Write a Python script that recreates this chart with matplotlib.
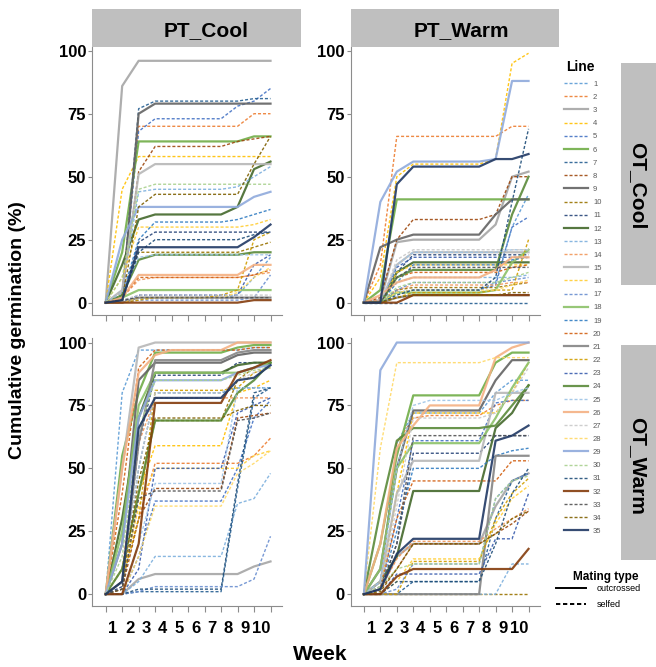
import matplotlib
matplotlib.use("Agg")
import matplotlib.pyplot as plt
from matplotlib.lines import Line2D
from matplotlib.patches import Rectangle

plt.rcParams['font.family'] = ['Liberation Sans', 'DejaVu Sans']

# semanas (11 puntos) y etiquetas del eje x
weeks = list(range(11))
week_labels = [str(w) for w in range(1, 11)]
line_ids = [str(i) for i in range(1, 36)]

line_colors = ["#5B9BD5", "#ED7D31", "#A5A5A5", "#FFC000", "#4472C4", "#70AD47",
               "#255E91", "#9E480E", "#636363", "#997300", "#264478", "#43682B",
               "#7CAFDD", "#F1975A", "#B7B7B7", "#FFCD33", "#698ED0", "#8CC168",
               "#327DC2", "#D26012", "#848484", "#D09E00", "#3A5DAE", "#5A8A39",
               "#9DC3E6", "#F4B183", "#C9C9C9", "#FFD966", "#8FAADC", "#A9D18E",
               "#1F4E79", "#843C0C", "#525252", "#7F6000", "#203864"]
solid_lines = [3, 6, 9, 12, 15, 18, 21, 24, 26, 29, 32, 35]

# PT_Cool / OT_Cool
pt_cool_ot_cool = [
    [0, 1, 2, 2, 2, 2, 2, 2, 3, 10, 18],
    [0, 4, 70, 70, 70, 70, 70, 70, 70, 75, 75],
    [0, 86, 96, 96, 96, 96, 96, 96, 96, 96, 96],
    [0, 45, 58, 58, 58, 58, 58, 58, 58, 58, 58],
    [0, 3, 68, 73, 73, 73, 73, 73, 78, 80, 85],
    [0, 20, 64, 64, 64, 64, 64, 64, 64, 66, 66],
    [0, 2, 77, 80, 80, 80, 80, 80, 80, 81, 81],
    [0, 3, 52, 62, 62, 62, 62, 62, 64, 65, 66],
    [0, 1, 75, 79, 79, 79, 79, 79, 79, 79, 79],
    [0, 1, 20, 20, 20, 20, 20, 20, 20, 22, 24],
    [0, 1, 24, 28, 28, 28, 28, 28, 28, 28, 28],
    [0, 15, 33, 35, 35, 35, 35, 35, 38, 53, 56],
    [0, 5, 44, 45, 45, 45, 45, 45, 46, 50, 54],
    [0, 2, 9, 10, 10, 10, 10, 10, 10, 11, 12],
    [0, 5, 51, 55, 55, 55, 55, 55, 55, 55, 55],
    [0, 10, 30, 30, 30, 30, 30, 30, 30, 31, 33],
    [0, 0, 1, 1, 1, 1, 1, 1, 1, 2, 11],
    [0, 2, 5, 5, 5, 5, 5, 5, 5, 5, 5],
    [0, 3, 25, 32, 32, 32, 32, 32, 33, 35, 37],
    [0, 2, 10, 10, 10, 10, 10, 10, 10, 11, 13],
    [0, 0, 2, 2, 2, 2, 2, 2, 2, 2, 2],
    [0, 0, 1, 2, 2, 2, 2, 3, 5, 25, 28],
    [0, 0, 3, 3, 3, 3, 3, 3, 3, 15, 19],
    [0, 3, 17, 19, 19, 19, 19, 19, 19, 20, 20],
    [0, 4, 18, 19, 19, 19, 19, 19, 19, 19, 19],
    [0, 2, 11, 11, 11, 11, 11, 11, 11, 15, 15],
    [0, 1, 3, 3, 3, 3, 3, 3, 3, 3, 3],
    [0, 0, 2, 2, 2, 2, 2, 2, 4, 10, 14],
    [0, 25, 38, 38, 38, 38, 38, 38, 38, 42, 44],
    [0, 10, 45, 47, 47, 47, 47, 47, 47, 47, 47],
    [0, 1, 20, 25, 25, 25, 25, 25, 25, 27, 28],
    [0, 0, 0, 0, 0, 0, 0, 0, 0, 1, 1],
    [0, 1, 2, 2, 2, 2, 2, 2, 2, 2, 2],
    [0, 1, 38, 43, 43, 43, 43, 43, 43, 55, 66],
    [0, 1, 22, 22, 22, 22, 22, 22, 22, 26, 31],
]

# PT_Warm / OT_Cool
pt_warm_ot_cool = [
    [0, 1, 4, 5, 5, 5, 5, 5, 8, 30, 43],
    [0, 15, 66, 66, 66, 66, 66, 66, 66, 70, 70],
    [0, 1, 24, 25, 25, 25, 25, 25, 31, 50, 52],
    [0, 10, 50, 55, 55, 55, 55, 55, 57, 95, 99],
    [0, 0, 4, 5, 5, 5, 5, 5, 7, 30, 34],
    [0, 5, 41, 41, 41, 41, 41, 41, 41, 41, 41],
    [0, 0, 0, 0, 0, 0, 0, 0, 0, 0, 0],
    [0, 2, 25, 33, 33, 33, 33, 33, 35, 50, 50],
    [0, 22, 25, 27, 27, 27, 27, 27, 35, 41, 41],
    [0, 0, 5, 6, 6, 6, 6, 6, 6, 7, 8],
    [0, 0, 12, 19, 19, 19, 19, 19, 19, 19, 19],
    [0, 0, 12, 16, 16, 16, 16, 16, 16, 16, 16],
    [0, 0, 8, 10, 10, 10, 10, 10, 10, 10, 11],
    [0, 1, 5, 7, 7, 7, 7, 7, 7, 8, 8],
    [0, 0, 15, 20, 20, 20, 20, 20, 20, 20, 20],
    [0, 0, 12, 15, 15, 15, 15, 15, 15, 15, 15],
    [0, 0, 5, 8, 8, 8, 8, 8, 8, 9, 10],
    [0, 0, 4, 4, 4, 4, 4, 4, 5, 16, 21],
    [0, 0, 8, 15, 15, 15, 15, 15, 15, 17, 18],
    [0, 0, 10, 12, 12, 12, 12, 12, 12, 14, 15],
    [0, 0, 2, 3, 3, 3, 3, 3, 3, 3, 3],
    [0, 0, 2, 4, 4, 4, 4, 4, 5, 5, 25],
    [0, 0, 14, 18, 18, 18, 18, 18, 18, 18, 18],
    [0, 0, 10, 13, 13, 13, 13, 13, 13, 35, 50],
    [0, 0, 15, 20, 20, 20, 20, 20, 20, 21, 21],
    [0, 3, 8, 10, 10, 10, 10, 10, 13, 18, 18],
    [0, 0, 17, 21, 21, 21, 21, 21, 21, 21, 21],
    [0, 0, 4, 5, 5, 5, 5, 5, 5, 7, 9],
    [0, 40, 52, 56, 56, 56, 56, 56, 57, 88, 88],
    [0, 0, 6, 8, 8, 8, 8, 8, 8, 10, 12],
    [0, 0, 3, 5, 5, 5, 5, 5, 10, 40, 69],
    [0, 0, 0, 3, 3, 3, 3, 3, 3, 3, 3],
    [0, 0, 10, 14, 14, 14, 14, 14, 14, 14, 14],
    [0, 0, 2, 3, 3, 3, 3, 3, 3, 4, 4],
    [0, 0, 47, 54, 54, 54, 54, 54, 57, 57, 59],
]

# PT_Cool / OT_Warm
pt_cool_ot_warm = [
    [0, 80, 97, 97, 97, 97, 97, 97, 97, 98, 98],
    [0, 5, 30, 52, 52, 52, 52, 52, 52, 55, 62],
    [0, 0, 6, 8, 8, 8, 8, 8, 8, 11, 13],
    [0, 10, 40, 59, 59, 59, 59, 59, 80, 82, 85],
    [0, 0, 15, 37, 37, 37, 37, 37, 50, 70, 77],
    [0, 55, 80, 96, 96, 96, 96, 96, 98, 99, 99],
    [0, 0, 1, 1, 1, 1, 1, 1, 42, 78, 82],
    [0, 2, 30, 42, 42, 42, 42, 42, 70, 71, 72],
    [0, 20, 85, 92, 92, 92, 92, 92, 95, 96, 96],
    [0, 2, 40, 69, 69, 69, 69, 69, 85, 90, 92],
    [0, 3, 60, 87, 87, 87, 87, 87, 92, 92, 92],
    [0, 30, 70, 88, 88, 88, 88, 88, 91, 92, 92],
    [0, 0, 5, 15, 15, 15, 15, 15, 36, 38, 48],
    [0, 10, 60, 78, 78, 78, 78, 78, 78, 78, 78],
    [0, 50, 98, 100, 100, 100, 100, 100, 100, 100, 100],
    [0, 5, 35, 50, 50, 50, 50, 50, 50, 55, 57],
    [0, 0, 1, 3, 3, 3, 3, 3, 3, 6, 23],
    [0, 25, 75, 88, 88, 88, 88, 88, 88, 90, 92],
    [0, 5, 50, 80, 80, 80, 80, 80, 82, 82, 82],
    [0, 40, 90, 97, 97, 97, 97, 97, 97, 98, 98],
    [0, 5, 60, 93, 93, 93, 93, 93, 96, 97, 97],
    [0, 5, 30, 81, 81, 81, 81, 81, 82, 88, 90],
    [0, 0, 10, 50, 50, 50, 50, 50, 72, 75, 78],
    [0, 10, 40, 69, 69, 69, 69, 69, 80, 85, 92],
    [0, 0, 20, 44, 44, 44, 44, 44, 82, 82, 82],
    [0, 50, 88, 95, 97, 97, 97, 97, 100, 100, 100],
    [0, 5, 50, 80, 80, 80, 80, 80, 85, 88, 90],
    [0, 0, 15, 35, 35, 35, 35, 35, 48, 52, 57],
    [0, 20, 70, 85, 85, 85, 85, 85, 88, 90, 91],
    [0, 15, 65, 85, 85, 85, 85, 85, 87, 89, 90],
    [0, 0, 2, 2, 2, 2, 2, 2, 44, 80, 82],
    [0, 0, 20, 76, 76, 76, 76, 76, 88, 90, 93],
    [0, 2, 38, 41, 41, 41, 41, 41, 69, 70, 72],
    [0, 5, 45, 70, 70, 70, 70, 70, 73, 75, 75],
    [0, 5, 66, 78, 78, 78, 78, 78, 85, 86, 91],
]

# PT_Warm / OT_Warm
pt_warm_ot_warm = [
    [0, 5, 60, 72, 72, 72, 72, 72, 80, 85, 85],
    [0, 3, 60, 70, 71, 71, 71, 71, 75, 77, 77],
    [0, 2, 15, 20, 20, 20, 20, 20, 35, 45, 48],
    [0, 2, 40, 72, 72, 72, 72, 72, 72, 80, 92],
    [0, 3, 30, 61, 61, 61, 61, 61, 76, 77, 77],
    [0, 20, 55, 79, 79, 79, 79, 79, 92, 96, 96],
    [0, 0, 0, 5, 5, 5, 5, 5, 30, 45, 48],
    [0, 2, 10, 20, 20, 20, 20, 20, 24, 28, 33],
    [0, 10, 50, 73, 73, 73, 73, 73, 85, 93, 93],
    [0, 0, 0, 0, 0, 0, 0, 0, 0, 0, 0],
    [0, 2, 20, 56, 56, 56, 56, 56, 63, 63, 63],
    [0, 5, 15, 41, 41, 41, 41, 41, 66, 72, 83],
    [0, 0, 0, 0, 0, 0, 0, 0, 0, 12, 12],
    [0, 2, 14, 21, 21, 21, 21, 21, 26, 30, 34],
    [0, 5, 40, 53, 53, 53, 53, 53, 80, 80, 80],
    [0, 0, 5, 14, 14, 14, 14, 14, 28, 38, 43],
    [0, 0, 2, 12, 12, 12, 12, 12, 38, 45, 48],
    [0, 10, 50, 60, 60, 60, 60, 60, 70, 82, 92],
    [0, 2, 25, 50, 50, 50, 50, 50, 55, 57, 58],
    [0, 2, 30, 45, 45, 45, 45, 45, 45, 53, 53],
    [0, 0, 0, 0, 0, 0, 0, 0, 55, 55, 55],
    [0, 0, 0, 13, 13, 13, 13, 13, 30, 40, 46],
    [0, 0, 8, 8, 8, 8, 8, 8, 22, 22, 40],
    [0, 33, 61, 66, 66, 66, 66, 66, 67, 75, 83],
    [0, 5, 50, 75, 77, 77, 77, 77, 77, 80, 82],
    [0, 20, 58, 67, 75, 75, 75, 75, 94, 98, 100],
    [0, 3, 35, 70, 70, 70, 70, 70, 72, 80, 90],
    [0, 58, 92, 92, 92, 92, 92, 92, 94, 94, 94],
    [0, 89, 100, 100, 100, 100, 100, 100, 100, 100, 100],
    [0, 3, 10, 12, 12, 12, 12, 12, 38, 45, 47],
    [0, 0, 5, 5, 5, 5, 5, 5, 20, 40, 50],
    [0, 0, 7, 10, 10, 10, 10, 10, 10, 10, 18],
    [0, 2, 20, 63, 63, 63, 63, 63, 63, 63, 63],
    [0, 1, 10, 20, 20, 20, 20, 20, 24, 30, 33],
    [0, 2, 16, 22, 22, 22, 22, 22, 61, 63, 67],
]

W, H = 656, 667
fig = plt.figure(figsize=(W / 100, H / 100), dpi=100)


def px_axes(left, top, right, bottom):
    return fig.add_axes([left / W, 1 - bottom / H, (right - left) / W, (bottom - top) / H])


def px_rect(left, top, right, bottom):
    fig.add_artist(Rectangle((left / W, 1 - bottom / H), (right - left) / W, (bottom - top) / H,
                             transform=fig.transFigure, facecolor="#BFBFBF", edgecolor="none"))


gris = "#8C8C8C"
paneles = [
    (pt_cool_ot_cool, (92.5, 46.7, 301, 315), (-4.9, 101.6), False),
    (pt_warm_ot_cool, (350.7, 46.7, 559, 315), (-4.9, 101.6), False),
    (pt_cool_ot_warm, (92.5, 338, 301, 606), (-4.7, 101.8), True),
    (pt_warm_ot_warm, (350.7, 338, 559, 606), (-4.7, 101.8), True),
]

handles = []
for datos, caja, ylim, abajo in paneles:
    ax = px_axes(*caja)
    for i, valores in enumerate(datos):
        if (i + 1) in solid_lines:
            ls, lw = "-", 1.6
        else:
            ls, lw = (0, (2.2, 1.4)), 1.0
        ln, = ax.plot(weeks, valores, color=line_colors[i], linestyle=ls, linewidth=lw,
                      alpha=0.9, label=line_ids[i])
        if abajo and caja[0] < 200:
            handles.append(ln)
    ax.set_xlim(-0.8, 11.85)
    ax.set_ylim(*ylim)
    for s in ["top", "right"]:
        ax.spines[s].set_visible(False)
    for s in ["left", "bottom"]:
        ax.spines[s].set_color(gris)
        ax.spines[s].set_linewidth(0.8)
    ax.spines["bottom"].set_bounds(-0.8, 10.7)
    ax.set_yticks([0, 25, 50, 75, 100])
    ax.set_yticklabels(["0", "25", "50", "75", "100"], fontsize=12, fontweight="bold")
    ax.tick_params(axis="y", length=3, width=0.8, color=gris, pad=1.5)
    ax.set_xticks(weeks)
    ax.set_xticklabels([])
    ax.tick_params(axis="x", which="major", length=4, width=0.8, color=gris)
    if abajo:
        ax.set_xticks([w - 0.55 for w in range(1, 11)], minor=True)
        ax.set_xticklabels(week_labels, minor=True, fontsize=12, fontweight="bold")
        ax.tick_params(axis="x", which="minor", length=0, pad=11)

# tiras de facetas
px_rect(92.5, 9.3, 301, 46.7)
px_rect(350.7, 9.3, 559, 46.7)
fig.text(206 / W, 1 - 36 / H, "PT_Cool", ha="center", va="baseline", fontsize=15, fontweight="bold")
fig.text(461 / W, 1 - 36 / H, "PT_Warm", ha="center", va="baseline", fontsize=15, fontweight="bold")
px_rect(621, 63, 656, 285)
px_rect(621, 345, 656, 560)
fig.text(638 / W, 1 - 186 / H, "OT_Cool", ha="center", va="center", rotation=-90,
         fontsize=15, fontweight="bold")
fig.text(638 / W, 1 - 466 / H, "OT_Warm", ha="center", va="center", rotation=-90,
         fontsize=15, fontweight="bold")

fig.text(18 / W, 1 - 330 / H, "Cumulative germination (%)", ha="center", va="center",
         rotation=90, fontsize=14, fontweight="bold")
fig.text(320 / W, 1 - 655 / H, "Week", ha="center", va="center", fontsize=15, fontweight="bold")

# leyenda de lineas
fig.text(566 / W, 1 - 67 / H, "Line", ha="left", va="center", fontsize=10, fontweight="bold")
leg1 = fig.legend(handles=handles, loc="upper left",
                  bbox_to_anchor=(564 / W, 1 - 80.5 / H), frameon=False, fontsize=5.5,
                  handlelength=3.2, handletextpad=0.6, labelspacing=0.76,
                  borderpad=0, borderaxespad=0)
for t in leg1.get_texts():
    t.set_color("#595959")

# leyenda del tipo de cruzamiento
fig.text(606 / W, 1 - 577 / H, "Mating type", ha="center", va="center", fontsize=8.5,
         fontweight="bold")
tipo = [Line2D([], [], color="black", linestyle="-", linewidth=1.4),
        Line2D([], [], color="black", linestyle=(0, (2.2, 1.4)), linewidth=1.4)]
leg2 = fig.legend(handles=tipo, labels=["outcrossed", "selfed"],
                  loc="upper left", bbox_to_anchor=(556 / W, 1 - 584 / H), frameon=False,
                  fontsize=6.5, handlelength=3.3, handletextpad=1.2, labelspacing=0.75,
                  borderpad=0, borderaxespad=0)

fig.savefig("out.png", dpi=100)
